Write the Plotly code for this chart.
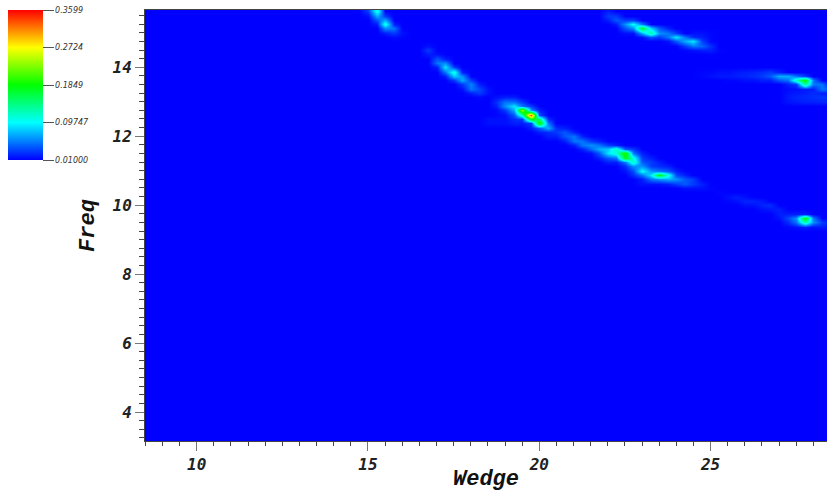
import plotly.graph_objects as go

wedge_axis = [8.0 + 0.25 * i for i in range(87)]
freq_axis = [3.0 + 0.125 * i for i in range(103)]
background = 0.01
z_min = 0.01
z_max = 0.3599
bar_ticks = [0.01, 0.09747, 0.1849, 0.2724, 0.3599]
bar_labels = ["0.01000", "0.09747", "0.1849", "0.2724", "0.3599"]

# each entry: wedge, highest freq, values going down in 0.125 freq steps
ridge_a = [
    (15.0, 15.75, [.04, .03, .015]),
    (15.25, 15.75, [.10, .11, .07, .04, .02]),
    (15.5, 15.5, [.03, .07, .11, .06, .02]),
    (15.75, 15.25, [.02, .05, .03, .015]),
    (16.0, 15.0, [.015, .012]),
]
ridge_b = [
    (16.75, 14.625, [.015, .03, .02]),
    (17.0, 14.375, [.015, .04, .05, .02]),
    (17.25, 14.25, [.02, .06, .09, .05, .02]),
    (17.5, 14.0, [.03, .11, .08, .03]),
    (17.75, 13.875, [.02, .06, .07, .03, .015]),
    (18.0, 13.625, [.03, .055, .05, .02]),
    (18.25, 13.5, [.02, .035, .03, .012]),
    (18.5, 13.375, [.015, .015]),
]
ridge_c = [
    (18.5, 12.5, [.015, .015]),
    (18.75, 13.125, [.015, .025, .02, .012, .012, .015, .015]),
    (19.0, 13.125, [.02, .05, .06, .03, .015, .015, .015]),
    (19.25, 13.125, [.02, .05, .09, .07, .04, .025, .02]),
    (19.5, 13.0, [.03, .05, .24, .12, .03, .02]),
    (19.75, 12.875, [.03, .06, .34, .19, .03, .02]),
    (20.0, 12.75, [.02, .035, .15, .20, .04, .02]),
    (20.25, 12.5, [.025, .05, .07, .025]),
]
ridge_d = [
    (20.25, 12.125, [.025, .02]),
    (20.5, 12.25, [.025, .03, .02]),
    (20.75, 12.25, [.02, .04, .04, .02]),
    (21.0, 12.125, [.02, .05, .05, .02]),
    (21.25, 12.0, [.02, .05, .05, .02]),
    (21.5, 11.875, [.03, .06, .045, .015]),
    (21.75, 11.875, [.02, .05, .07, .04, .02]),
    (22.0, 11.75, [.03, .08, .09, .04, .02]),
    (22.25, 11.75, [.02, .12, .11, .05, .02]),
    (22.5, 11.625, [.04, .20, .18, .05, .025, .015]),
    (22.75, 11.625, [.03, .05, .11, .12, .06, .035, .025]),
    (23.0, 11.5, [.02, .03, .04, .06, .10, .05, .02, .015]),
    (23.25, 11.375, [.02, .03, .03, .06, .09, .05, .015]),
    (23.5, 11.25, [.02, .025, .05, .18, .06, .015]),
    (23.75, 11.125, [.02, .04, .11, .07, .02]),
    (24.0, 11.0, [.02, .035, .06, .03]),
    (24.25, 10.875, [.02, .04, .04, .015]),
    (24.5, 10.75, [.03, .03, .015]),
    (24.75, 10.625, [.02, .015]),
    (25.0, 10.5, [.012]),
]
ridge_e = [
    (25.25, 10.375, [.012]),
    (25.5, 10.25, [.015, .012]),
    (25.75, 10.25, [.02, .015]),
    (26.0, 10.25, [.015, .022, .015]),
    (26.25, 10.125, [.022, .015]),
    (26.5, 10.125, [.018, .022, .015]),
    (26.75, 10.0, [.025, .018]),
    (27.0, 9.875, [.02, .02, .015]),
    (27.25, 9.75, [.02, .035, .025, .012]),
    (27.5, 9.75, [.02, .06, .05, .015]),
    (27.75, 9.75, [.02, .19, .13, .02]),
    (28.0, 9.625, [.05, .06, .015]),
    (28.25, 9.5, [.03, .02]),
    (28.5, 9.5, [.02, .015]),
]
ridge_f = [
    (22.0, 15.625, [.02, .03, .02]),
    (22.25, 15.5, [.03, .04, .02]),
    (22.5, 15.375, [.03, .06, .04, .015]),
    (22.75, 15.375, [.03, .10, .06, .015]),
    (23.0, 15.25, [.05, .17, .07, .015]),
    (23.25, 15.125, [.08, .13, .04]),
    (23.5, 15.125, [.04, .06, .03]),
    (23.75, 15.125, [.02, .05, .05, .015]),
    (24.0, 15.0, [.03, .09, .04]),
    (24.25, 14.875, [.05, .07, .03, .012]),
    (24.5, 15.0, [.015, .025, .09, .05, .015]),
    (24.75, 15.0, [.015, .02, .03, .045, .02]),
    (25.0, 15.0, [.012, .012, .012, .025, .02, .012]),
    (25.25, 14.5, [.012]),
]
ridge_g = [
    (24.75, 13.875, [.012, .012]),
    (25.0, 13.875, [.012, .015]),
    (25.25, 13.875, [.015, .018]),
    (25.5, 13.875, [.015, .018, .012]),
    (25.75, 13.875, [.018, .02, .012]),
    (26.0, 13.875, [.02, .022, .015]),
    (26.25, 13.875, [.022, .025, .015]),
    (26.5, 13.875, [.025, .03, .02]),
    (26.75, 13.875, [.03, .04, .02]),
    (27.0, 13.875, [.02, .07, .04]),
    (27.25, 13.75, [.07, .05, .02, .014, .016, .018, .016]),
    (27.5, 13.75, [.05, .12, .03, .015, .018, .022, .018]),
    (27.75, 13.75, [.03, .19, .14, .02, .02, .024, .02]),
    (28.0, 13.625, [.05, .05, .02, .025, .026, .02]),
    (28.25, 13.5, [.05, .05, .02, .028, .022]),
    (28.5, 13.375, [.04, .02, .025, .022]),
]

z = [[background for _ in wedge_axis] for _ in freq_axis]
for ridge in (ridge_a, ridge_b, ridge_c, ridge_d, ridge_e, ridge_f, ridge_g):
    for wedge, top, values in ridge:
        col = wedge_axis.index(wedge)
        row = freq_axis.index(top)
        for k, v in enumerate(values):
            if row - k >= 0:
                z[row - k][col] = max(z[row - k][col], v)

colors = [[0, "#0000ff"], [0.25, "#00ffff"], [0.5, "#00ff00"], [0.75, "#ffff00"], [1, "#ff0000"]]
tick_font = dict(family="DejaVu Sans Mono", size=16, color="#222222", style="italic", weight="bold")
title_font = dict(family="Liberation Mono", size=22, color="#111111", style="italic", weight="bold")

fig = go.Figure(go.Heatmap(
    x=wedge_axis, y=freq_axis, z=z, zmin=z_min, zmax=z_max, zsmooth="best",
    colorscale=colors, hoverinfo="skip",
    colorbar=dict(
        x=-0.2009, xanchor="left", y=1, yanchor="top", lenmode="pixels", len=150,
        thickness=35, thicknessmode="pixels", xpad=0, ypad=0, outlinewidth=0,
        tickmode="array", tickvals=bar_ticks, ticktext=bar_labels, ticks="outside",
        ticklen=11, tickwidth=1, tickcolor="#555555",
        tickfont=dict(family="DejaVu Sans", size=8, color="#333333", style="italic"),
    ),
))
fig.update_layout(
    width=827, height=492, margin=dict(l=145, r=0, t=10, b=51),
    paper_bgcolor="white", plot_bgcolor="#0000ff",
    xaxis=dict(
        range=[8.49, 28.4], tick0=10, dtick=5, ticks="outside", ticklen=9, tickwidth=1,
        tickcolor="#777777", tickfont=tick_font, showgrid=False, zeroline=False,
        showline=True, linecolor="#444444", mirror=True,
        minor=dict(dtick=0.5, ticks="outside", ticklen=4, tickcolor="#444444", showgrid=False),
        title=dict(text="Wedge", font=title_font, standoff=1),
    ),
    yaxis=dict(
        range=[3.16, 15.66], tick0=4, dtick=2, ticks="outside", ticklen=9, tickwidth=1,
        tickcolor="#777777", tickfont=tick_font, showgrid=False, zeroline=False,
        showline=True, linecolor="#444444", mirror=True,
        minor=dict(dtick=0.25, ticks="outside", ticklen=5, tickcolor="#444444", showgrid=False),
        title=dict(text="Freq", font=title_font, standoff=11),
    ),
)
fig.write_html(
    "out.html",
    config={"displayModeBar": False},
    post_script="document.body.style.margin='0';document.body.style.overflow='hidden';",
)
